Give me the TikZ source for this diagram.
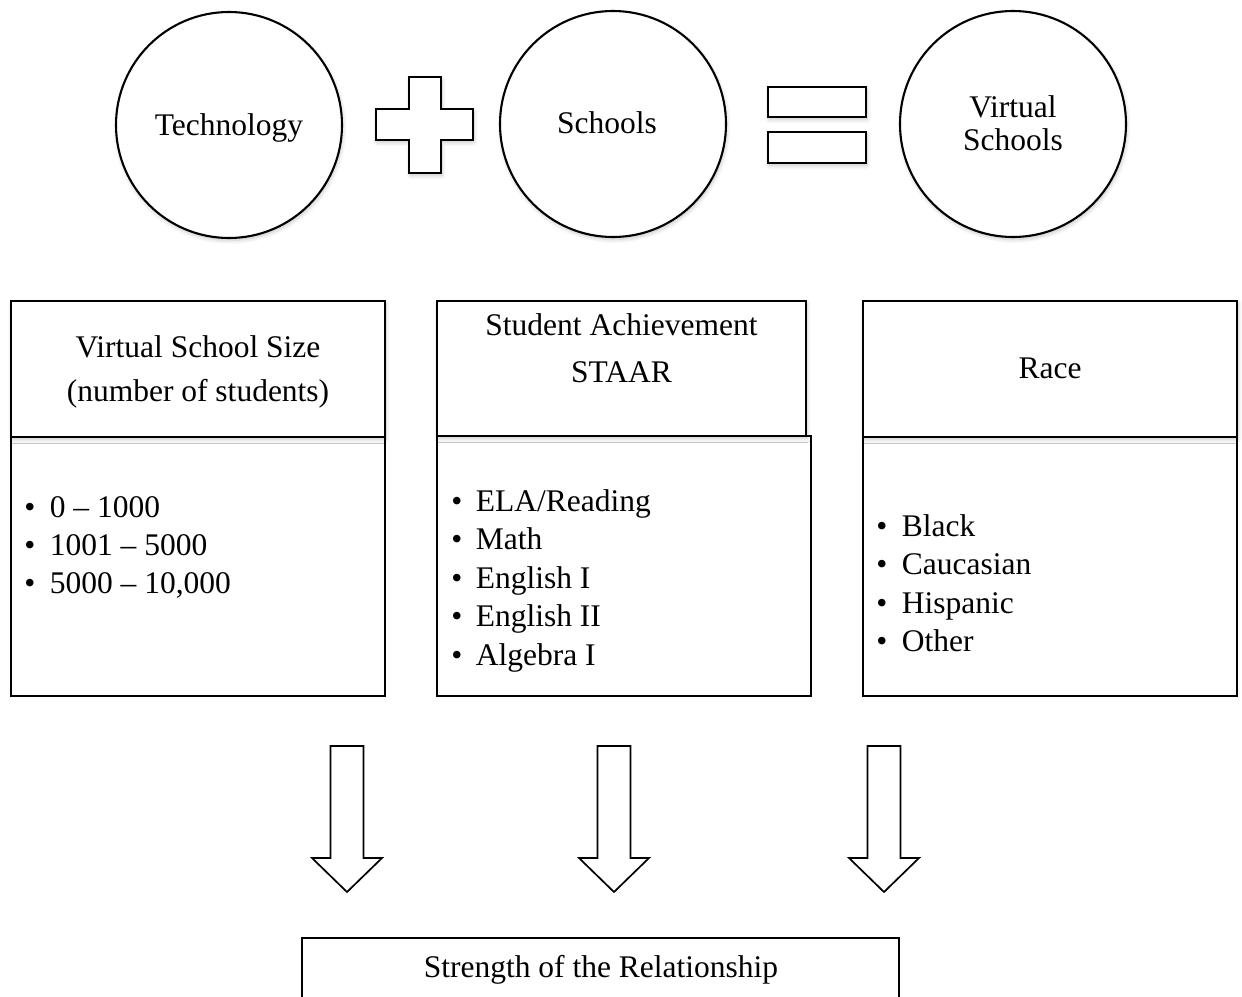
\documentclass[tikz,border=0pt]{standalone}
\usepackage{fontspec}
\setmainfont{Liberation Serif}
\usetikzlibrary{shadows.blur}
\begin{document}
\begin{tikzpicture}[x=1pt,y=-1pt,
  line width=1.7pt,
  sh/.style={blur shadow={shadow xshift=1pt,shadow yshift=-2.5pt,shadow blur steps=6,shadow opacity=22,shadow blur radius=4pt}},
  circ/.style={draw, circle, fill=white, minimum size=226pt, inner sep=0pt, line width=2.1pt, sh},
  hdr/.style={draw, rectangle, fill=white, inner sep=0pt, sh},
  lbox/.style={draw, rectangle, fill=white, inner sep=0pt},
  txt/.style={inner sep=0pt, font=\fontsize{31.5}{36}\selectfont},
  blockarrow/.style={draw, fill=white, line join=miter},
]
\useasboundingbox (0,0) rectangle (1242,996);
\clip (0,0) rectangle (1242,996);

% circles
\node[circ] (tech) at (229,125) {};
\node[txt, anchor=base] (techt) at (229,135) {Technology};
\node[circ] (sch) at (613,124) {};
\node[txt, anchor=base] (scht) at (607,133) {Schools};
\node[circ] (vs) at (1013,124) {};
\node[txt, anchor=base] (vsa) at (1013,117) {Virtual};
\node[txt, anchor=base] (vsb) at (1013,150) {Schools};

% plus sign
\draw[fill=white, sh] (409,77) -- (441,77) -- (441,109) -- (473,109) -- (473,140) -- (441,140)
  -- (441,173) -- (409,173) -- (409,140) -- (376,140) -- (376,109) -- (409,109) -- cycle;

% equals sign
\draw[fill=white, sh] (768,87) rectangle (866,117);
\draw[fill=white, sh] (768,132) rectangle (866,163);

% lower boxes
\node[lbox, minimum width=374pt, minimum height=259pt] (l1) at (198,566.5) {};
\node[lbox, minimum width=374pt, minimum height=260pt] (l2) at (624,566) {};
\node[lbox, minimum width=374pt, minimum height=259pt] (l3) at (1050,566.5) {};

% header boxes
\node[hdr, minimum width=374pt, minimum height=136pt] (h1) at (198,369) {};
\node[hdr, minimum width=369pt, minimum height=135pt] (h2) at (621.5,368.5) {};
\node[hdr, minimum width=374pt, minimum height=136pt] (h3) at (1050,369) {};

\node[txt, anchor=base] (h1a) at (198,357) {Virtual School Size};
\node[txt, anchor=base] (h1b) at (198,401) {(number of students)};
\node[txt, anchor=base] (h2a) at (621.5,335) {Student Achievement};
\node[txt, anchor=base] (h2b) at (621.5,382) {STAAR};
\node[txt, anchor=base] (h3a) at (1050,378) {Race};

% bullet lists
\foreach \t [count=\i] in {0 -- 1000, 1001 -- 5000, {5000 -- 10,000}} {
  \node[txt, anchor=base] (b1d\i) at (30,{517+38*(\i-1)}) {\textbullet};
  \node[txt, anchor=base west] (b1t\i) at (49,{517+38*(\i-1)}) {\t};
}
\foreach \t [count=\i] in {ELA/Reading, Math, English I, English II, Algebra I} {
  \node[txt, anchor=base] (b2d\i) at (457,{511+38.5*(\i-1)}) {\textbullet};
  \node[txt, anchor=base west] (b2t\i) at (475,{511+38.5*(\i-1)}) {\t};
}
\foreach \t [count=\i] in {Black, Caucasian, Hispanic, Other} {
  \node[txt, anchor=base] (b3d\i) at (882,{536+38.5*(\i-1)}) {\textbullet};
  \node[txt, anchor=base west] (b3t\i) at (901,{536+38.5*(\i-1)}) {\t};
}

% block arrows
\foreach \cx in {347,614,884} {
  \draw[blockarrow] ({\cx-16.5},746) -- ({\cx+16.5},746) -- ({\cx+16.5},858) -- ({\cx+35},858)
    -- (\cx,892) -- ({\cx-35},858) -- ({\cx-16.5},858) -- cycle;
}

% result box
\node[lbox, minimum width=597pt, minimum height=80pt] (res) at (600.5,978) {};
\node[txt, anchor=base] (rest) at (601,977) {Strength of the Relationship};
\end{tikzpicture}
\end{document}
